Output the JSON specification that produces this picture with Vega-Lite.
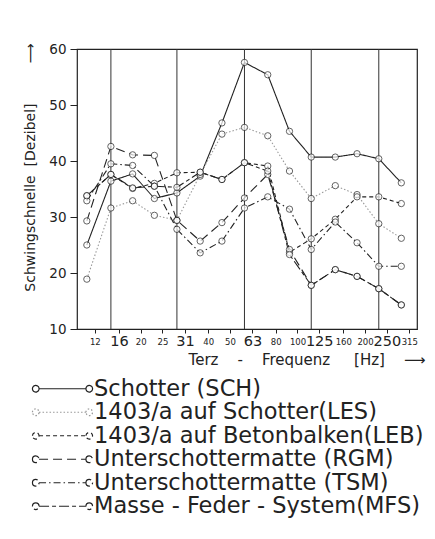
{
  "$schema": "https://vega.github.io/schema/vega-lite/v6.json",
  "width": 340,
  "height": 280,
  "autosize": {"type": "none"},
  "padding": {"left": 77, "top": 49, "right": 18, "bottom": 210},
  "background": "white",
  "config": {
    "view": {"stroke": "#222", "strokeWidth": 1.2},
    "font": "DejaVu Sans",
    "axis": {"labelColor": "#222", "titleColor": "#222", "tickColor": "#222", "domainColor": "#222", "labelFont": "DejaVu Sans", "titleFont": "DejaVu Sans", "titleFontWeight": "normal"},
    "legend": {"padding": 0}
  },
  "datasets": {
    "octaves": [{"hz": 16}, {"hz": 31.5}, {"hz": 63}, {"hz": 125}, {"hz": 250}],
    "curves": [
      {"series": "Schotter (SCH)", "hz": 12.5, "db": 25.0},
      {"series": "Schotter (SCH)", "hz": 16, "db": 36.4},
      {"series": "Schotter (SCH)", "hz": 20, "db": 37.7},
      {"series": "Schotter (SCH)", "hz": 25, "db": 33.3},
      {"series": "Schotter (SCH)", "hz": 31.5, "db": 34.3},
      {"series": "Schotter (SCH)", "hz": 40, "db": 37.3},
      {"series": "Schotter (SCH)", "hz": 50, "db": 46.8},
      {"series": "Schotter (SCH)", "hz": 63, "db": 57.6},
      {"series": "Schotter (SCH)", "hz": 80, "db": 55.4},
      {"series": "Schotter (SCH)", "hz": 100, "db": 45.3},
      {"series": "Schotter (SCH)", "hz": 125, "db": 40.7},
      {"series": "Schotter (SCH)", "hz": 160, "db": 40.7},
      {"series": "Schotter (SCH)", "hz": 200, "db": 41.3},
      {"series": "Schotter (SCH)", "hz": 250, "db": 40.4},
      {"series": "Schotter (SCH)", "hz": 315, "db": 36.1},
      {"series": "1403/a auf Schotter(LES)", "hz": 12.5, "db": 18.9},
      {"series": "1403/a auf Schotter(LES)", "hz": 16, "db": 31.6},
      {"series": "1403/a auf Schotter(LES)", "hz": 20, "db": 32.9},
      {"series": "1403/a auf Schotter(LES)", "hz": 25, "db": 30.3},
      {"series": "1403/a auf Schotter(LES)", "hz": 31.5, "db": 29.4},
      {"series": "1403/a auf Schotter(LES)", "hz": 40, "db": 37.6},
      {"series": "1403/a auf Schotter(LES)", "hz": 50, "db": 44.8},
      {"series": "1403/a auf Schotter(LES)", "hz": 63, "db": 46.0},
      {"series": "1403/a auf Schotter(LES)", "hz": 80, "db": 44.5},
      {"series": "1403/a auf Schotter(LES)", "hz": 100, "db": 38.2},
      {"series": "1403/a auf Schotter(LES)", "hz": 125, "db": 33.3},
      {"series": "1403/a auf Schotter(LES)", "hz": 160, "db": 35.6},
      {"series": "1403/a auf Schotter(LES)", "hz": 200, "db": 34.0},
      {"series": "1403/a auf Schotter(LES)", "hz": 250, "db": 28.8},
      {"series": "1403/a auf Schotter(LES)", "hz": 315, "db": 26.2},
      {"series": "1403/a auf Betonbalken(LEB)", "hz": 12.5, "db": 33.8},
      {"series": "1403/a auf Betonbalken(LEB)", "hz": 16, "db": 37.6},
      {"series": "1403/a auf Betonbalken(LEB)", "hz": 20, "db": 35.1},
      {"series": "1403/a auf Betonbalken(LEB)", "hz": 25, "db": 36.0},
      {"series": "1403/a auf Betonbalken(LEB)", "hz": 31.5, "db": 37.9},
      {"series": "1403/a auf Betonbalken(LEB)", "hz": 40, "db": 38.0},
      {"series": "1403/a auf Betonbalken(LEB)", "hz": 50, "db": 36.7},
      {"series": "1403/a auf Betonbalken(LEB)", "hz": 63, "db": 39.7},
      {"series": "1403/a auf Betonbalken(LEB)", "hz": 80, "db": 39.1},
      {"series": "1403/a auf Betonbalken(LEB)", "hz": 100, "db": 23.7},
      {"series": "1403/a auf Betonbalken(LEB)", "hz": 125, "db": 26.1},
      {"series": "1403/a auf Betonbalken(LEB)", "hz": 160, "db": 29.6},
      {"series": "1403/a auf Betonbalken(LEB)", "hz": 200, "db": 33.6},
      {"series": "1403/a auf Betonbalken(LEB)", "hz": 250, "db": 33.6},
      {"series": "1403/a auf Betonbalken(LEB)", "hz": 315, "db": 32.4},
      {"series": "Unterschottermatte (RGM)", "hz": 12.5, "db": 29.3},
      {"series": "Unterschottermatte (RGM)", "hz": 16, "db": 42.6},
      {"series": "Unterschottermatte (RGM)", "hz": 20, "db": 41.1},
      {"series": "Unterschottermatte (RGM)", "hz": 25, "db": 41.0},
      {"series": "Unterschottermatte (RGM)", "hz": 31.5, "db": 29.4},
      {"series": "Unterschottermatte (RGM)", "hz": 40, "db": 25.7},
      {"series": "Unterschottermatte (RGM)", "hz": 50, "db": 29.0},
      {"series": "Unterschottermatte (RGM)", "hz": 63, "db": 33.4},
      {"series": "Unterschottermatte (RGM)", "hz": 80, "db": 37.6},
      {"series": "Unterschottermatte (RGM)", "hz": 100, "db": 24.2},
      {"series": "Unterschottermatte (RGM)", "hz": 125, "db": 17.8},
      {"series": "Unterschottermatte (RGM)", "hz": 160, "db": 20.6},
      {"series": "Unterschottermatte (RGM)", "hz": 200, "db": 19.4},
      {"series": "Unterschottermatte (RGM)", "hz": 250, "db": 17.2},
      {"series": "Unterschottermatte (RGM)", "hz": 315, "db": 14.3},
      {"series": "Unterschottermatte (TSM)", "hz": 12.5, "db": 32.9},
      {"series": "Unterschottermatte (TSM)", "hz": 16, "db": 39.5},
      {"series": "Unterschottermatte (TSM)", "hz": 20, "db": 39.2},
      {"series": "Unterschottermatte (TSM)", "hz": 25, "db": 35.5},
      {"series": "Unterschottermatte (TSM)", "hz": 31.5, "db": 27.8},
      {"series": "Unterschottermatte (TSM)", "hz": 40, "db": 23.6},
      {"series": "Unterschottermatte (TSM)", "hz": 50, "db": 25.7},
      {"series": "Unterschottermatte (TSM)", "hz": 63, "db": 31.6},
      {"series": "Unterschottermatte (TSM)", "hz": 80, "db": 33.6},
      {"series": "Unterschottermatte (TSM)", "hz": 100, "db": 31.4},
      {"series": "Unterschottermatte (TSM)", "hz": 125, "db": 24.2},
      {"series": "Unterschottermatte (TSM)", "hz": 160, "db": 29.1},
      {"series": "Unterschottermatte (TSM)", "hz": 200, "db": 25.4},
      {"series": "Unterschottermatte (TSM)", "hz": 250, "db": 21.2},
      {"series": "Unterschottermatte (TSM)", "hz": 315, "db": 21.2},
      {"series": "Masse - Feder - System(MFS)", "hz": 12.5, "db": 33.8},
      {"series": "Masse - Feder - System(MFS)", "hz": 16, "db": 37.6},
      {"series": "Masse - Feder - System(MFS)", "hz": 20, "db": 35.2},
      {"series": "Masse - Feder - System(MFS)", "hz": 25, "db": 35.5},
      {"series": "Masse - Feder - System(MFS)", "hz": 31.5, "db": 35.3},
      {"series": "Masse - Feder - System(MFS)", "hz": 40, "db": 38.0},
      {"series": "Masse - Feder - System(MFS)", "hz": 50, "db": 36.7},
      {"series": "Masse - Feder - System(MFS)", "hz": 63, "db": 39.7},
      {"series": "Masse - Feder - System(MFS)", "hz": 80, "db": 38.2},
      {"series": "Masse - Feder - System(MFS)", "hz": 100, "db": 23.3},
      {"series": "Masse - Feder - System(MFS)", "hz": 125, "db": 17.8},
      {"series": "Masse - Feder - System(MFS)", "hz": 160, "db": 20.6},
      {"series": "Masse - Feder - System(MFS)", "hz": 200, "db": 19.4},
      {"series": "Masse - Feder - System(MFS)", "hz": 250, "db": 17.2},
      {"series": "Masse - Feder - System(MFS)", "hz": 315, "db": 14.3}
    ]
  },
  "encoding": {
    "x": {
      "field": "hz",
      "type": "quantitative",
      "scale": {"type": "log", "domain": [11.3, 370], "nice": false},
      "axis": {
        "values": [12.5, 16, 20, 25, 31.5, 40, 50, 63, 80, 100, 125, 160, 200, 250, 315],
        "labelExpr": "datum.value == 12.5 ? '12' : datum.value == 31.5 ? '31' : format(datum.value, 'd')",
        "labelFontSize": {"condition": {"test": "datum.value == 16 || datum.value == 31.5 || datum.value == 63 || datum.value == 125 || datum.value == 250", "value": 14.5}, "value": 8.5},
        "labelOverlap": false,
        "labelFlush": false,
        "labelBaseline": "middle",
        "labelPadding": 8,
        "tickSize": 4,
        "tickOffset": 8,
        "grid": false,
        "domainWidth": 1.2,
        "title": "Terz\u00a0\u00a0\u00a0\u00a0-\u00a0\u00a0\u00a0\u00a0Frequenz\u00a0\u00a0\u00a0\u00a0\u00a0[Hz]\u00a0\u00a0\u00a0\u00a0⟶",
        "titleFontSize": 15,
        "titleAlign": "right",
        "titleAnchor": "end",
        "titleBaseline": "middle",
        "titleX": 348,
        "titleY": 30
      }
    }
  },
  "layer": [
    {
      "data": {"name": "octaves"},
      "mark": {"type": "rule", "color": "#333", "strokeWidth": 1}
    },
    {
      "data": {"name": "curves"},
      "mark": {"type": "line", "strokeWidth": 1.1},
      "encoding": {
        "y": {
          "field": "db",
          "type": "quantitative",
          "scale": {"domain": [10, 60], "nice": false, "zero": false},
          "axis": {
            "values": [10, 20, 30, 40, 50, 60],
            "grid": false,
            "domain": false,
            "tickSize": 7,
            "labelFontSize": 13.5,
            "labelPadding": 4,
            "title": "Schwingschnelle\u00a0\u00a0[Dezibel]\u00a0\u00a0\u00a0\u00a0\u00a0\u00a0\u00a0\u00a0\u00a0⟶",
            "titleFontSize": 14,
            "titleX": -47,
            "titleY": 118,
            "titleAlign": "center",
            "titleBaseline": "middle",
            "titleAngle": -90
          }
        },
        "strokeDash": {
          "field": "series",
          "type": "nominal",
          "scale": {
            "domain": ["Schotter (SCH)", "1403/a auf Schotter(LES)", "1403/a auf Betonbalken(LEB)", "Unterschottermatte (RGM)", "Unterschottermatte (TSM)", "Masse - Feder - System(MFS)"],
            "range": [[1, 0], [1.5, 2], [4, 3], [9, 5], [7, 3, 1.5, 3], [10, 3, 4, 3]]
          },
          "legend": {
            "orient": "none",
            "legendX": -46.5,
            "legendY": 328.5,
            "title": null,
            "labelFontSize": 22.5,
            "labelFont": "DejaVu Sans",
            "labelColor": "#222",
            "labelLimit": 500,
            "labelOffset": 41,
            "rowPadding": 0.5,
            "symbolType": "M-0.93,0A0.33,0.33,0,1,1,-0.27,0A0.33,0.33,0,1,1,-0.93,0M-0.27,0L4.42,0M4.42,0A0.33,0.33,0,1,1,5.08,0A0.33,0.33,0,1,1,4.42,0",
            "symbolSize": 400,
            "symbolStrokeWidth": 1.2
          }
        },
        "color": {
          "field": "series",
          "type": "nominal",
          "scale": {
            "domain": ["Schotter (SCH)", "1403/a auf Schotter(LES)", "1403/a auf Betonbalken(LEB)", "Unterschottermatte (RGM)", "Unterschottermatte (TSM)", "Masse - Feder - System(MFS)"],
            "range": ["#222", "#999", "#222", "#222", "#222", "#222"]
          }
        }
      }
    },
    {
      "data": {"name": "curves"},
      "mark": {"type": "point", "shape": "circle", "size": 40, "filled": true, "fill": "white", "stroke": "#222", "strokeWidth": 1},
      "encoding": {
        "y": {"field": "db", "type": "quantitative"}
      }
    }
  ]
}
